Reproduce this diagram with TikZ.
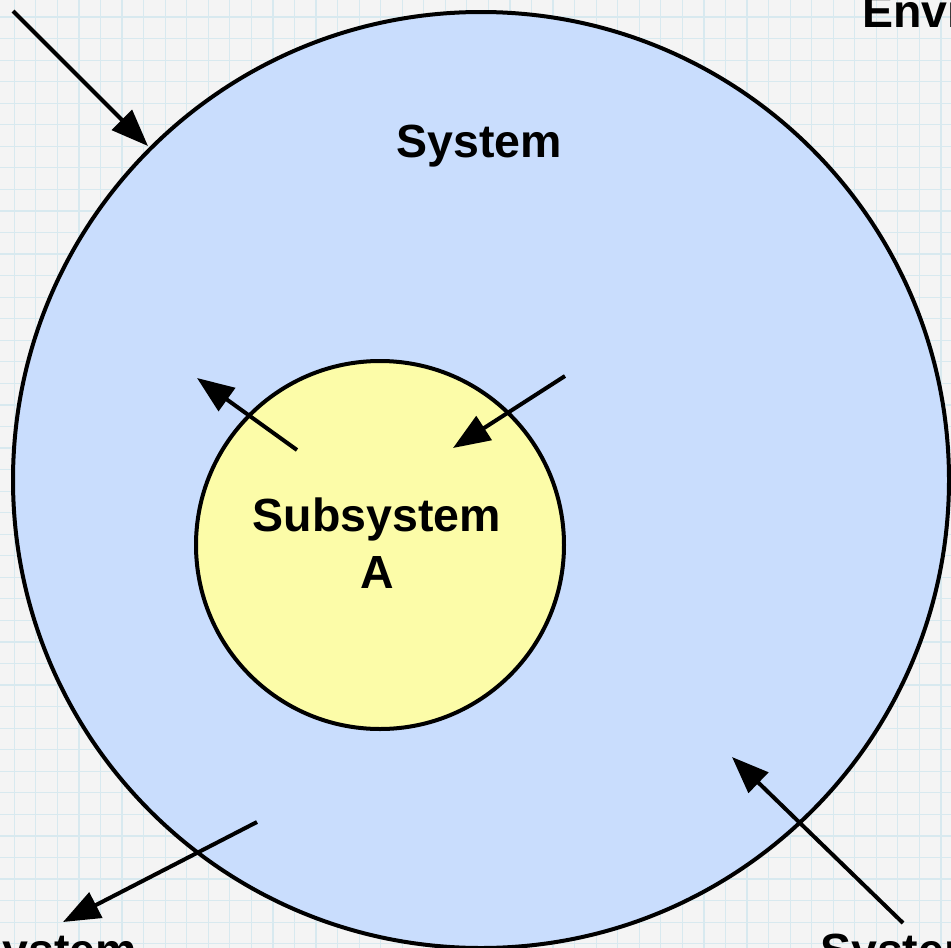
\documentclass[tikz,border=0pt]{standalone}
\usepackage{fontspec}
\setmainfont{Liberation Sans}
\usetikzlibrary{arrows.meta}
\definecolor{bgcol}{HTML}{F4F4F4}
\definecolor{gridcol}{HTML}{D8E9EF}
\definecolor{syscol}{HTML}{C9DDFD}
\definecolor{subcol}{HTML}{FCFCA8}
\tikzset{
  lbl/.style={font=\fontsize{46.5}{52}\selectfont\bfseries, inner sep=0pt, anchor=base},
  flow/.style={line width=4pt, -{Triangle[length=37pt,width=28pt]}},
  ring/.style={circle, draw=black, line width=4pt, inner sep=0pt}
}
\begin{document}
\begin{tikzpicture}[x=1pt,y=-1pt]
\useasboundingbox (0,0) rectangle (951,948);
\clip (0,0) rectangle (951,948);
\fill[bgcol] (0,0) rectangle (951,948);
\foreach \i in {0,...,44} {
  \draw[gridcol, line width=1.2pt] ({14.3+\i*21.55},0) -- ({14.3+\i*21.55},948);
  \draw[gridcol, line width=1.2pt] (0,{17+\i*21.55}) -- (951,{17+\i*21.55});
}
\node[ring, fill=syscol, minimum size=936pt] (sys) at (481,480) {};
\node[ring, fill=subcol, minimum size=368pt] (sub) at (380,545) {};
\node[lbl] (systxt) at (479.5,157) {System};
\node[lbl] (subtxt) at (377,531) {Subsystem};
\node[lbl] (atxt) at (377,588) {A};
\node[lbl, anchor=base west] (env) at (862,27) {Environment};
\node[lbl, anchor=base east] (othl) at (137,966) {System};
\node[lbl, anchor=base west] (othr) at (820,966) {System};
\coordinate (a1s) at (13,11);
\coordinate (a1e) at (148,146);
\coordinate (a2s) at (257,822);
\coordinate (a2e) at (63,922);
\coordinate (a3s) at (903,923);
\coordinate (a3e) at (732,757);
\coordinate (a4s) at (297,450);
\coordinate (a4e) at (197,378);
\coordinate (a5s) at (565,376);
\coordinate (a5e) at (453,448);
\draw[flow] (a1s) -- (a1e);
\draw[flow] (a2s) -- (a2e);
\draw[flow] (a3s) -- (a3e);
\draw[flow] (a4s) -- (a4e);
\draw[flow] (a5s) -- (a5e);
\end{tikzpicture}
\end{document}
